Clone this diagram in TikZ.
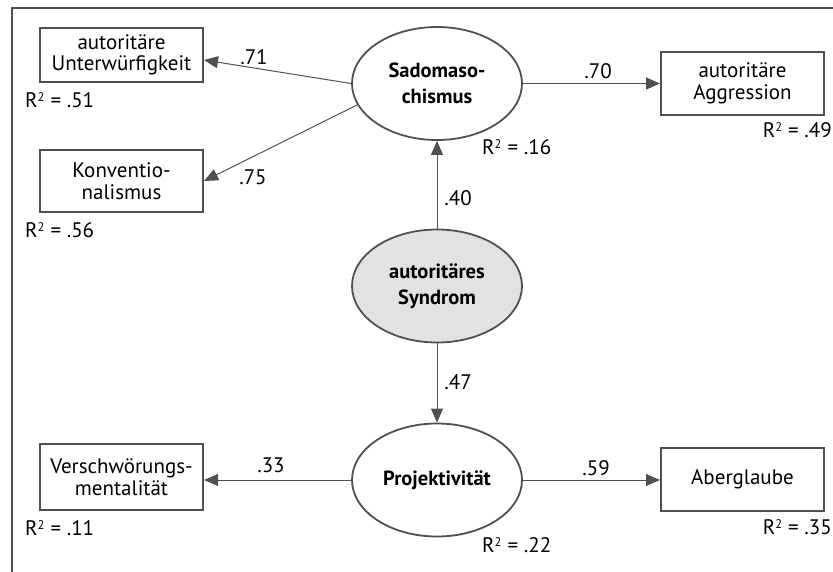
\documentclass[tikz,border=0pt]{standalone}
\usepackage{fontspec}
\setmainfont{PT Sans}
\usetikzlibrary{arrows.meta,shapes.geometric}
\definecolor{ln}{HTML}{505050}
\definecolor{fillg}{HTML}{E2E2E2}
\newcommand{\fsz}{\fontsize{21}{21.5}\selectfont}
\newcommand{\fszb}{\fontsize{20.5}{26}\selectfont\bfseries}
\newcommand{\rsq}[1]{R\raisebox{6pt}{\fontsize{12.5}{12.5}\selectfont 2}\kern0.5pt{} = #1}
\tikzset{
  obs/.style={draw=ln,line width=2pt,rectangle,minimum width=163pt,inner sep=0pt,align=center,font=\fsz},
  lat/.style={draw=ln,line width=1.8pt,ellipse,minimum width=170pt,minimum height=113pt,inner sep=0pt,align=center,font=\fszb},
  conn/.style={draw=ln,line width=1pt,-{Triangle[length=14pt,width=12pt]}},
  lbl/.style={inner sep=0pt,font=\fsz},
}
\begin{document}
\begin{tikzpicture}[x=1pt,y=-1pt]
\useasboundingbox (0,0) rectangle (833,571);
\draw[ln,line width=1.3pt] (12,575) -- (12,8) -- (840,8);
% latent
\node[lat] (sado) at (437,83.5) {Sadomaso-\\chismus};
\node[lat,fill=fillg] (syn) at (437,286) {autoritäres\\Syndrom};
\node[lat] (proj) at (437,480) {Projektivität};
% observed
\node[obs,minimum height=54pt] (unt) at (121.5,55) {autoritäre\\Unterwürfigkeit};
\node[obs,minimum height=62pt] (konv) at (121.5,181) {Konventio-\\nalismus};
\node[obs,minimum height=63pt] (aggr) at (742.5,83.5) {autoritäre\\Aggression};
\node[obs,minimum height=63pt] (aber) at (742.5,479.5) {Aberglaube};
\node[obs,minimum height=66pt] (vers) at (121.5,477) {Verschwörungs-\\mentalität};
% connectors
\draw[conn] (sado.west) -- ([yshift=-5pt]unt.east);
\draw[conn] (sado.195) -- (konv.east);
\draw[conn] (sado.east) -- (aggr.west |- sado.east);
\draw[conn] (syn.north) -- (sado.south);
\draw[conn] (syn.south) -- (proj.north);
\draw[conn] (proj.west) -- (vers.east |- proj.west);
\draw[conn] (proj.east) -- (aber.west |- proj.east);
% path labels
\node[lbl] (l71) at (254,57) {.71};
\node[lbl] (l75) at (253,177) {.75};
\node[lbl] (l70) at (598,71) {.70};
\node[lbl] (l40) at (458,198) {.40};
\node[lbl] (l47) at (458,382) {.47};
\node[lbl] (l33) at (271,465) {.33};
\node[lbl] (l59) at (596,468) {.59};
% R2 labels
\node[lbl,anchor=west] (r51) at (25,100) {\rsq{.51}};
\node[lbl,anchor=west] (r56) at (25,230) {\rsq{.56}};
\node[lbl,anchor=west] (r11) at (25,528) {\rsq{.11}};
\node[lbl,anchor=west] (r16) at (482,147) {\rsq{.16}};
\node[lbl,anchor=west] (r22) at (482,545) {\rsq{.22}};
\node[lbl,anchor=east] (r49) at (832,130) {\rsq{.49}};
\node[lbl,anchor=east] (r35) at (832,527) {\rsq{.35}};
\end{tikzpicture}
\end{document}
